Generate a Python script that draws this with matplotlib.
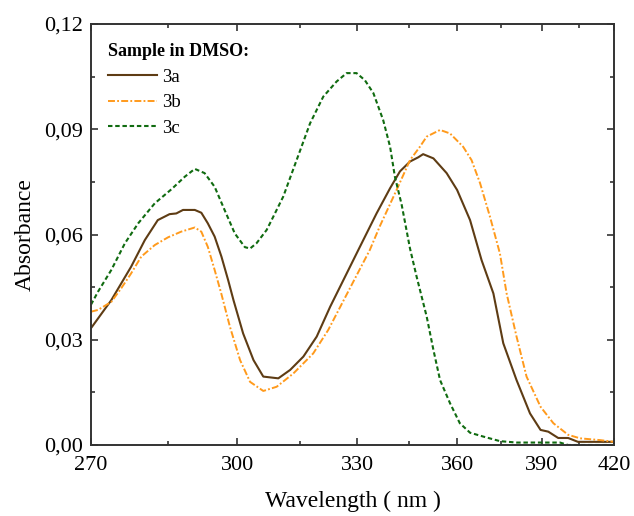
import numpy as np
import matplotlib
matplotlib.use("Agg")
import matplotlib.pyplot as plt
from matplotlib.ticker import FixedLocator, MultipleLocator, FuncFormatter

# ---- data ----
wl_3a = [270.0, 273.8, 277.6, 280.3, 282.9, 285.3, 286.7, 288.1, 290.6, 292.0, 293.4, 294.9,
         296.4, 297.9, 299.1, 301.3, 303.7, 306.0, 309.6, 312.5, 315.8, 319.2, 322.7, 330.3,
         335.4, 339.3, 342.2, 345.2, 347.7, 349.2, 352.4, 356.6, 360.0, 364.3, 368.2, 372.3,
         375.8, 380.6, 385.6, 389.6, 392.6, 396.5, 400.5, 404.5, 413.8, 420.0]
abs_3a = [0.0333, 0.0413, 0.0508, 0.0584, 0.0641, 0.0658, 0.0660, 0.0670, 0.0670, 0.0662, 0.0632, 0.0594,
          0.0537, 0.0470, 0.0413, 0.0318, 0.0242, 0.0195, 0.0190, 0.0214, 0.0252, 0.0309, 0.0394, 0.0556,
          0.0660, 0.0732, 0.0780, 0.0808, 0.0820, 0.0829, 0.0817, 0.0775, 0.0727, 0.0641, 0.0527, 0.0432,
          0.0290, 0.0185, 0.0090, 0.0043, 0.0038, 0.0020, 0.0020, 0.0009, 0.0009, 0.0009]

wl_3b = [270.0, 271.3, 273.8, 275.7, 277.6, 279.6, 282.3, 285.0, 287.7, 290.6, 292.0, 293.4,
         294.9, 296.4, 298.3, 300.6, 302.9, 306.0, 309.2, 313.3, 318.3, 322.2, 333.5, 336.4,
         341.2, 345.2, 348.2, 350.3, 354.5, 357.7, 362.0, 364.8, 367.7, 371.1, 374.6, 377.0,
         380.6, 384.3, 389.6, 394.6, 400.5, 405.4, 413.8, 420.0]
abs_3b = [0.0380, 0.0385, 0.0408, 0.0447, 0.0489, 0.0537, 0.0570, 0.0592, 0.0608, 0.0620, 0.0608, 0.0565,
          0.0499, 0.0430, 0.0337, 0.0242, 0.0180, 0.0154, 0.0166, 0.0204, 0.0261, 0.0328, 0.0556, 0.0625,
          0.0727, 0.0812, 0.0850, 0.0879, 0.0898, 0.0888, 0.0850, 0.0812, 0.0746, 0.0651, 0.0546, 0.0432,
          0.0309, 0.0195, 0.0109, 0.0062, 0.0029, 0.0019, 0.0014, 0.0009]

wl_3c = [270.0, 271.3, 273.8, 276.4, 279.0, 282.3, 285.7, 288.5, 290.6, 292.7, 294.9, 297.1,
         299.4, 301.7, 302.9, 304.4, 306.8, 308.4, 310.8, 314.1, 317.5, 320.9, 324.4, 327.1,
         329.8, 332.1, 334.5, 337.3, 339.3, 340.7, 342.7, 345.2, 347.2, 350.3, 352.4, 354.5,
         357.7, 360.9, 364.3, 368.8, 374.6, 380.6, 397.2, 400.5, 420.0]
abs_3c = [0.0400, 0.0437, 0.0499, 0.0575, 0.0632, 0.0689, 0.0729, 0.0765, 0.0787, 0.0775, 0.0736, 0.0670,
          0.0603, 0.0564, 0.0560, 0.0575, 0.0613, 0.0651, 0.0708, 0.0812, 0.0917, 0.0993, 0.1036, 0.1060,
          0.1060, 0.1040, 0.1003, 0.0926, 0.0850, 0.0765, 0.0685, 0.0560, 0.0480, 0.0366, 0.0271, 0.0185,
          0.0119, 0.0062, 0.0035, 0.0024, 0.0011, 0.0007, 0.0007, 0.0000, 0.0000]

labels = ["3a", "3b", "3c"]
x_ticks = [270, 300, 330, 360, 390, 420]
x_minor = [285, 315, 345, 375, 405]

# ---- style ----
plt.rcParams['font.family'] = ['Liberation Serif', 'DejaVu Serif']
plt.rcParams['lines.scale_dashes'] = False

fig = plt.figure(figsize=(6.34, 5.16), dpi=100)
ax = fig.add_axes([91/634, 1-445/516, 523/634, 421/516])


def fwd(x):
    x = np.asarray(x, dtype=float)
    with np.errstate(divide='ignore', invalid='ignore'):
        return -1.0 / x


ax.set_xscale('function', functions=(fwd, fwd))

ax.plot(wl_3a, abs_3a, color='#5e3c14', lw=1.5, label=labels[0])
ax.plot(wl_3b, abs_3b, color='#ff9a1c', lw=1.4, dashes=(5, 1.6, 1.3, 1.6), label=labels[1])
ax.plot(wl_3c, abs_3c, color='#106b10', lw=1.5, dashes=(3.2, 2.0), label=labels[2])

ax.set_xlim(270, 420)
ax.set_ylim(0, 0.12)
ax.xaxis.set_major_locator(FixedLocator(x_ticks))
ax.xaxis.set_minor_locator(FixedLocator(x_minor))
ax.xaxis.set_major_formatter(FuncFormatter(lambda v, p: f"{v:.0f}"))
ax.xaxis.set_minor_formatter(FuncFormatter(lambda v, p: ""))
ax.yaxis.set_major_locator(MultipleLocator(0.03))
ax.yaxis.set_minor_locator(MultipleLocator(0.015))
ax.yaxis.set_major_formatter(FuncFormatter(lambda v, p: f"{v:.2f}".replace('.', ',')))

ax.tick_params(which='both', direction='in', top=True, right=True, width=1.2, color='#333333')
ax.tick_params(which='major', length=5, labelsize=16)
ax.tick_params(axis='x', which='major', pad=8)
ax.tick_params(axis='y', which='major', pad=6)
ax.tick_params(which='minor', length=3)
for s in ax.spines.values():
    s.set_linewidth(1.4)
    s.set_color('#333333')

ax.set_xlabel("Wavelength ( nm )", fontsize=17, labelpad=11)
ax.set_ylabel("Absorbance", fontsize=17, labelpad=6)

leg = ax.legend(title="Sample in DMSO:", loc='upper left', frameon=False, fontsize=13.5,
                title_fontproperties={'weight': 'bold', 'size': 13}, handlelength=2.6,
                handletextpad=0.3, labelspacing=0.45, borderaxespad=0.5,
                bbox_to_anchor=(0.0, 0.995))
leg._legend_box.align = "left"

fig.savefig("out.png", dpi=100, facecolor='white')
